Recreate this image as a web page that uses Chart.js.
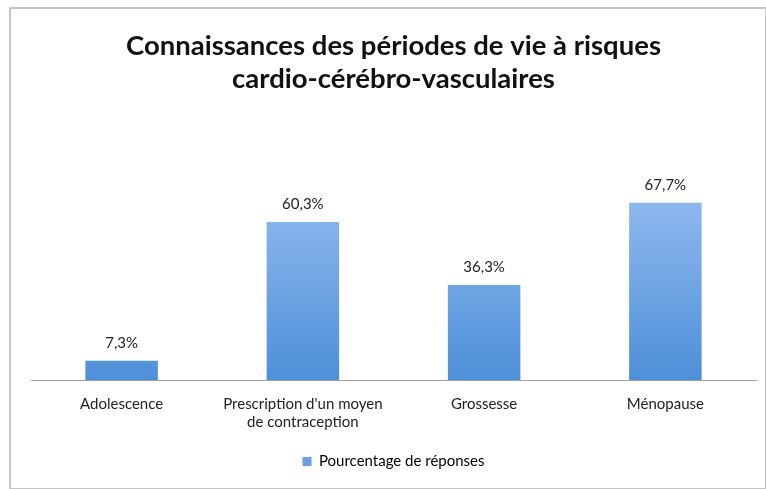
<!DOCTYPE html>
<html><head><meta charset="utf-8">
<script src="https://cdn.jsdelivr.net/npm/chart.js@4/dist/chart.umd.min.js"></script>
<style>
html,body{margin:0;padding:0;background:#fff;}
#wrap{position:relative;width:766px;height:489px;}
#frame{position:absolute;left:9px;top:7px;width:754px;height:479px;border:2px solid #c4c4c4;pointer-events:none;}
canvas{position:absolute;left:0;top:0;}
</style></head>
<body>
<div id="wrap"><canvas id="c" width="766" height="489"></canvas><div id="frame"></div></div>
<script>
const titleLines = ["Connaissances des périodes de vie à risques", "cardio-cérébro-vasculaires"];
const categories = ["Adolescence", ["Prescription d'un moyen", "de contraception"], "Grossesse", "Ménopause"];
const seriesName = "Pourcentage de réponses";
const values = [7.3, 60.3, 36.3, 67.7];
const valueLabels = ["7,3%", "60,3%", "36,3%", "67,7%"];

const FONT = "Lato, 'Open Sans', sans-serif";

const dataLabels = {
  id: 'dataLabels',
  afterDatasetsDraw(chart) {
    const ctx = chart.ctx;
    const meta = chart.getDatasetMeta(0);
    ctx.save();
    ctx.font = "15px " + FONT;
    ctx.fillStyle = "#222";
    ctx.textAlign = "center";
    ctx.textBaseline = "bottom";
    meta.data.forEach((bar, i) => {
      ctx.fillText(valueLabels[i], bar.x, bar.y - 10);
    });
    ctx.restore();
  }
};

function grad(context) {
  const chart = context.chart;
  const {ctx, chartArea} = chart;
  if (!chartArea) return '#7aaae8';
  const el = context.element;
  const top = el && el.y !== undefined ? el.y : chartArea.top;
  const bottom = chartArea.bottom;
  const g = ctx.createLinearGradient(0, top, 0, bottom);
  g.addColorStop(0, '#abcbf8');
  g.addColorStop(1, '#4e8fd8');
  return g;
}

new Chart(document.getElementById('c'), {
  type: 'bar',
  data: {
    labels: categories,
    datasets: [{
      label: seriesName,
      data: values,
      backgroundColor: grad,
      borderWidth: 0,
      categoryPercentage: 0.8,
      barPercentage: 0.5
    }]
  },
  options: {
    responsive: false,
    animation: false,
    layout: { padding: { left: 31, right: 10, top: 24, bottom: 10 } },
    plugins: {
      title: {
        display: true,
        text: titleLines,
        font: { family: FONT, size: 27.5, weight: 'bold' },
        color: '#111',
        lineHeight: 1.2,
        padding: { top: 6, bottom: 22 }
      },
      legend: {
        position: 'bottom',
        labels: {
          font: { family: FONT, size: 15 },
          color: '#222',
          boxWidth: 9, boxHeight: 9,
          padding: 16,
          generateLabels(chart) {
            return [{ text: seriesName, fillStyle: '#6a9fe3', strokeStyle: '#6a9fe3', lineWidth: 0, datasetIndex: 0 }];
          }
        }
      },
      tooltip: { enabled: false }
    },
    scales: {
      x: {
        grid: { display: false },
        border: { display: true, color: '#a0a0a0', width: 1 },
        ticks: { font: { family: FONT, size: 15 }, color: '#222', padding: 7, maxRotation: 0 }
      },
      y: {
        display: false,
        min: 0, max: 100
      }
    }
  },
  plugins: [dataLabels]
});
</script>
</body></html>
